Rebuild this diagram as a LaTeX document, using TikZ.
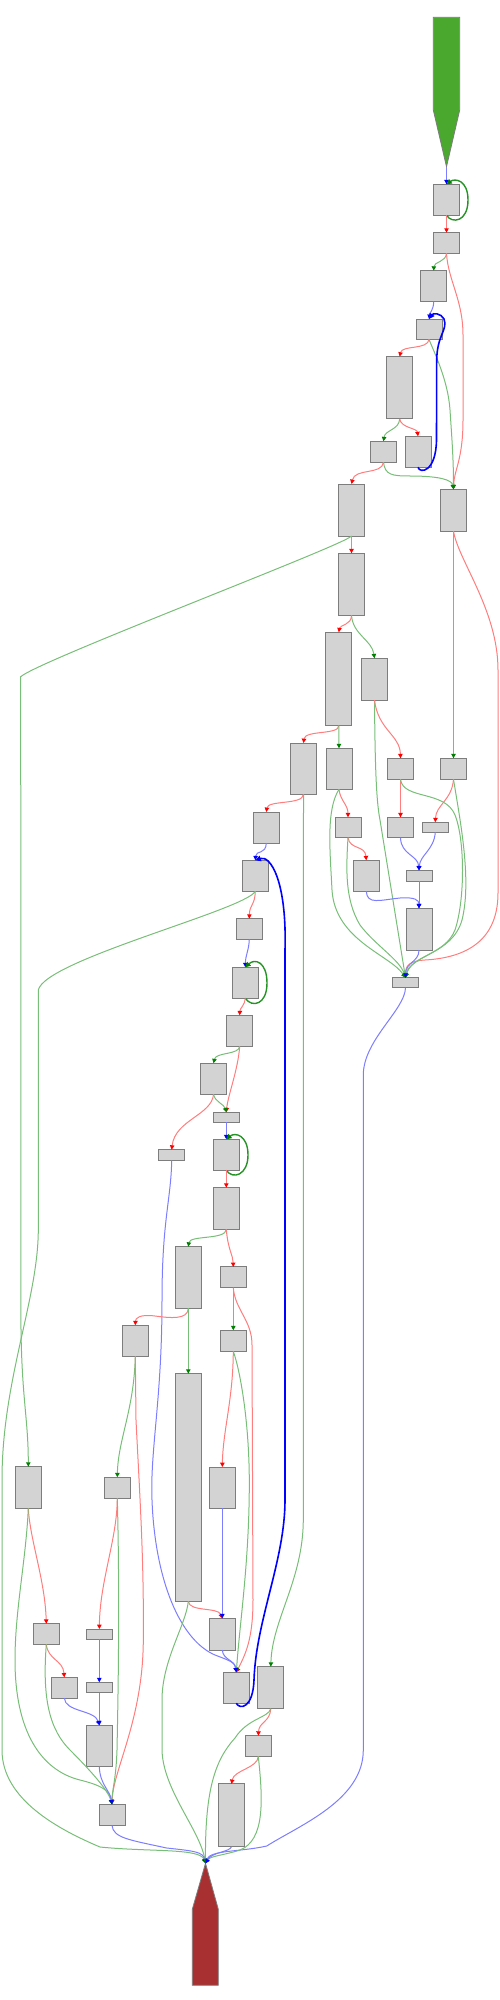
\documentclass[tikz,border=0pt]{standalone}
\usetikzlibrary{arrows.meta}
\definecolor{nodefill}{RGB}{211,211,211}
\definecolor{nodeline}{RGB}{125,125,125}
\definecolor{eg}{RGB}{120,190,120}
\definecolor{er}{RGB}{255,125,125}
\definecolor{eb}{RGB}{125,125,255}
\definecolor{tg}{RGB}{0,128,0}
\definecolor{tr}{RGB}{255,0,0}
\definecolor{tb}{RGB}{0,0,255}
\definecolor{startc}{RGB}{74,168,47}
\definecolor{endc}{RGB}{168,48,48}
\tikzset{
  blk/.style={draw=nodeline, fill=nodefill, line width=0.5pt, minimum width=13pt, inner sep=0pt, outer sep=0pt, rectangle},
  nh/.style={minimum height=#1*0.5pt},
  gE/.style={draw=eg, line width=0.5pt, -{Triangle[length=2.2pt,width=2.2pt,color=tg]}},
  rE/.style={draw=er, line width=0.5pt, -{Triangle[length=2.2pt,width=2.2pt,color=tr]}},
  bE/.style={draw=eb, line width=0.5pt, -{Triangle[length=2.2pt,width=2.2pt,color=tb]}},
  bB/.style={draw=tb, line width=0.8pt, -{Triangle[length=2.8pt,width=2.8pt,color=tb]}},
  gL/.style={draw=tg!85, line width=0.7pt, -{Triangle[length=2.6pt,width=2.6pt,color=tg]}},
}
\begin{document}
\begin{tikzpicture}[x=0.5pt,y=-0.5pt]
\useasboundingbox (0,0) rectangle (499,2000);
% start and end shapes
\filldraw[fill=startc, draw=nodeline, line width=0.4pt] (433.3,17.3) -- (459.7,17.3) -- (459.7,110) -- (446.5,166.7) -- (433.3,110) -- cycle;
\coordinate (start) at (446.5,166.7);
\filldraw[fill=endc, draw=nodeline, line width=0.4pt] (192.3,1985.3) -- (192.3,1909.3) -- (205.5,1863.3) -- (218.3,1909.3) -- (218.3,1985.3) -- cycle;
\coordinate (endtip) at (205.5,1863.3);
% blocks
\node[blk,nh=31] (N1) at (446.5,199.8) {};
\node[blk,nh=20.6] (N2) at (446.5,243) {};
\node[blk,nh=31] (N3) at (433.7,286.2) {};
\node[blk,nh=20.3] (N4) at (429,329.2) {};
\node[blk,nh=62.3] (N5) at (399.7,387.8) {};
\node[blk,nh=21] (N6) at (383.5,451.8) {};
\node[blk,nh=31] (N7) at (418,451.8) {};
\node[blk,nh=41.7] (N8) at (453.5,510.2) {};
\node[blk,nh=52] (N9) at (351.5,510) {};
\node[blk,nh=62] (N10) at (351.5,584.3) {};
\node[blk,nh=93.4] (N11) at (338.8,679) {};
\node[blk,nh=41.7] (N12) at (374.5,679.2) {};
\node[blk,nh=51.3] (N13) at (303.5,768.7) {};
\node[blk,nh=41] (N14) at (339,768.8) {};
\node[blk,nh=21] (NR) at (453.5,768.8) {};
\node[blk,nh=21] (N15) at (400.5,768.8) {};
\node[blk,nh=31] (N16) at (266.3,827.5) {};
\node[blk,nh=20.4] (N17) at (348,827.5) {};
\node[blk,nh=20.4] (N18) at (400.5,827.5) {};
\node[blk,nh=10] (N19) at (435.3,827.3) {};
\node[blk,nh=31] (N20) at (366.3,875.8) {};
\node[blk,nh=10.7] (N21) at (419,875.7) {};
\node[blk,nh=41.7] (N22) at (419,929.2) {};
\node[blk,nh=10] (M) at (405.5,982.7) {};
\node[blk,nh=31] (N23) at (255.3,875.8) {};
\node[blk,nh=20.6] (N24) at (249.3,929) {};
\node[blk,nh=31] (N25) at (245.3,982.8) {};
\node[blk,nh=31] (N26) at (239.7,1030.8) {};
\node[blk,nh=31] (N27) at (213.5,1078.8) {};
\node[blk,nh=10] (N28) at (226.3,1117.3) {};
\node[blk,nh=10.6] (N29) at (171.7,1155) {};
\node[blk,nh=31] (N30) at (226.3,1154.8) {};
\node[blk,nh=41.6] (N31) at (226.3,1208.5) {};
\node[blk,nh=61.6] (N32) at (188.3,1277.5) {};
\node[blk,nh=20.7] (N33) at (233.3,1277.3) {};
\node[blk,nh=31] (N35) at (135.3,1340.8) {};
\node[blk,nh=227.6] (N36) at (188.3,1487.5) {};
\node[blk,nh=21] (N37) at (233.3,1340.8) {};
\node[blk,nh=41.3] (N38) at (222.3,1487.7) {};
\node[blk,nh=31.7] (N49) at (222.3,1634.2) {};
\node[blk,nh=41.6] (NL1) at (28.3,1487.5) {};
\node[blk,nh=21] (N39) at (117.3,1487.8) {};
\node[blk,nh=20.6] (N41) at (46.3,1634) {};
\node[blk,nh=10.3] (N42) at (99.3,1634.2) {};
\node[blk,nh=20.7] (N43) at (64.3,1687.7) {};
\node[blk,nh=10.4] (N44) at (99.3,1687.5) {};
\node[blk,nh=41.4] (N45) at (99.3,1746) {};
\node[blk,nh=21] (N40) at (112,1814.8) {};
\node[blk,nh=31] (NB) at (236.3,1687.8) {};
\node[blk,nh=42] (N46) at (270.8,1687.7) {};
\node[blk,nh=20.6] (N47) at (258.3,1746) {};
\node[blk,nh=62.7] (N48) at (231.5,1815.3) {};
% edges
\draw[bE] (start) -- (N1.north);
\draw[gL] (N1.south) .. controls (452,224) and (468,222) .. (468,200) .. controls (468,180) and (455,178) .. (N1.north);
\draw[rE] (N1.south) -- (N2.north);
\draw[gE] (N2.south) .. controls (446,262) and (434,262) .. (N3.north);
\draw[rE] (N2.south) .. controls (448,280) and (463,300) .. (463,335) -- (463,420) .. controls (463,460) and (454,470) .. (N8.north);
\draw[bE] (N3.south) .. controls (433.5,310) and (430,312) .. (N4.north);
\draw[rE] (N4.south) .. controls (428,350) and (402,345) .. (N5.north);
\draw[gE] (N4.south) .. controls (434,352) and (448,380) .. (450,410) .. controls (452,440) and (453.5,460) .. (N8.north);
\draw[gE] (N5.south) .. controls (399,430) and (385,430) .. (N6.north);
\draw[rE] (N5.south) .. controls (401,428) and (417,428) .. (N7.north);
\draw[bB] (N7.south) .. controls (420,474) and (436,472) .. (436.5,440) -- (436.7,360) .. controls (437,335) and (448,330) .. (444,319) .. controls (441,313) and (433,313) .. (N4.north);
\draw[gE] (N6.south) .. controls (385,475) and (392,476) .. (410,476) .. controls (440,476) and (452,480) .. (N8.north);
\draw[rE] (N6.south) .. controls (382,475) and (355,468) .. (N9.north);
\draw[rE] (N9.south) -- (N10.north);
\draw[gE] (N9.south) .. controls (345,545) and (40,660) .. (20.7,676.7) -- (21,1330) .. controls (22,1400) and (28.3,1420) .. (NL1.north);
\draw[gE] (N8.south) -- (NR.north);
\draw[rE] (N8.south) .. controls (458,560) and (498,610) .. (498,670) -- (498,893) .. controls (498,945) and (460,958) .. (425,960) .. controls (410,961) and (405.5,965) .. (M.north);
\draw[rE] (N10.south) .. controls (351.5,625) and (340,625) .. (N11.north);
\draw[gE] (N10.south) .. controls (353,635) and (372,640) .. (N12.north);
\draw[rE] (N11.south) .. controls (339,735) and (305,730) .. (N13.north);
\draw[gE] (N11.south) -- (N14.north);
\draw[gE] (N12.south) .. controls (375,760) and (376,800) .. (380,820) -- (M.north);
\draw[rE] (N12.south) .. controls (378,730) and (400,735) .. (N15.north);
\draw[rE] (N13.south) .. controls (303,805) and (268,800) .. (N16.north);
\draw[gE] (N13.south) -- (303.3,1520) .. controls (303,1580) and (272,1620) .. (N46.north);
\draw[rE] (N14.south) .. controls (340,800) and (348,805) .. (N17.north);
\draw[gE] (N14.south) .. controls (326,810) and (330,850) .. (332,890) .. controls (335,940) and (390,955) .. (M.north);
\draw[rE] (NR.south) .. controls (452,800) and (436,805) .. (N19.north);
\draw[gE] (NR.south) .. controls (460,820) and (472,880) .. (462,920) .. controls (452,955) and (410,955) .. (M.north);
\draw[rE] (N15.south) -- (N18.north);
\draw[gE] (N15.south) .. controls (403,800) and (445,790) .. (455,815) .. controls (465,840) and (465,900) .. (455,930) .. controls (445,955) and (412,955) .. (M.north);
\draw[bE] (N16.south) .. controls (266,855) and (256,850) .. (N23.north);
\draw[rE] (N17.south) .. controls (350,850) and (365,845) .. (N20.north);
\draw[gE] (N17.south) .. controls (346,870) and (345,900) .. (360,925) .. controls (375,945) and (400,960) .. (M.north);
\draw[bE] (N18.south) .. controls (401,855) and (418,855) .. (N21.north);
\draw[bE] (N19.south) .. controls (434,850) and (420,855) .. (N21.north);
\draw[bE] (N21.south) -- (N22.north);
\draw[bE] (N20.south) .. controls (367,905) and (380,900) .. (400,898) .. controls (415,897) and (419,900) .. (N22.north);
\draw[bE] (N22.south) .. controls (419,962) and (406,962) .. (M.north);
\draw[bE] (M.south) .. controls (405,1010) and (363.3,1040) .. (363.3,1075) -- (363.3,1750) .. controls (363.3,1800) and (300,1825) .. (266.7,1846) .. controls (240,1852) and (210,1850) .. (endtip);
\draw[rE] (N23.south) .. controls (255,905) and (249.5,905) .. (N24.north);
\draw[gE] (N23.south) .. controls (245,910) and (45,960) .. (38.3,990) -- (38.3,1230) .. controls (38,1300) and (2,1380) .. (2,1480) -- (2,1750) .. controls (2,1800) and (60,1830) .. (100,1847) .. controls (150,1852) and (200,1848) .. (endtip);
\draw[bE] (N24.south) .. controls (249,950) and (245.5,955) .. (N25.north);
\draw[gL] (N25.south) .. controls (252,1008) and (267,1005) .. (267,983) .. controls (267,962) and (255,958) .. (N25.north);
\draw[rE] (N25.south) .. controls (245,1005) and (240,1008) .. (N26.north);
\draw[gE] (N26.south) .. controls (239,1055) and (216,1052) .. (N27.north);
\draw[rE] (N26.south) .. controls (238,1070) and (228,1095) .. (N28.north);
\draw[gE] (N27.south) .. controls (215,1102) and (224,1104) .. (N28.north);
\draw[rE] (N27.south) .. controls (212,1115) and (175,1120) .. (N29.north);
\draw[bE] (N28.south) -- (N30.north);
\draw[gL] (N30.south) .. controls (233,1180) and (248,1175) .. (248,1155) .. controls (248,1135) and (235,1132) .. (N30.north);
\draw[rE] (N30.south) -- (N31.north);
\draw[bE] (N29.south) .. controls (171,1200) and (162,1220) .. (162,1300) .. controls (162,1400) and (150,1450) .. (152,1500) .. controls (155,1580) and (180,1640) .. (215,1655) .. controls (228,1660) and (235,1662) .. (NB.north);
\draw[gE] (N31.south) .. controls (226,1240) and (190,1235) .. (N32.north);
\draw[rE] (N31.south) .. controls (228,1250) and (233,1255) .. (N33.north);
\draw[rE] (N32.south) .. controls (188,1320) and (170,1318) .. (155,1316) .. controls (140,1314) and (135.5,1318) .. (N35.north);
\draw[gE] (N32.south) -- (N36.north);
\draw[gE] (N33.south) -- (N37.north);
\draw[rE] (N33.south) .. controls (235,1310) and (252,1320) .. (252,1345) -- (253,1600) .. controls (253,1640) and (245,1655) .. (NB.north);
\draw[rE] (N37.south) .. controls (233,1400) and (223,1430) .. (N38.north);
\draw[gE] (N37.south) .. controls (240,1370) and (249,1420) .. (249.3,1480) .. controls (249.5,1560) and (240,1620) .. (NB.north);
\draw[gE] (N35.south) .. controls (134,1410) and (118,1440) .. (N39.north);
\draw[rE] (N35.south) -- (136,1420) .. controls (140,1500) and (144,1560) .. (143.3,1640) .. controls (143,1720) and (113,1770) .. (N40.north);
\draw[rE] (N36.south) .. controls (189,1612) and (218,1607) .. (N49.north);
\draw[gE] (N36.south) .. controls (186,1625) and (162,1660) .. (162,1700) -- (162,1750) .. controls (163,1790) and (200,1830) .. (endtip);
\draw[bE] (N38.south) -- (N49.north);
\draw[bE] (N49.south) .. controls (223,1660) and (235,1660) .. (NB.north);
\draw[bB] (NB.south) .. controls (240,1710) and (253,1708) .. (254,1680) .. controls (256,1620) and (285,1560) .. (285,1500) -- (285,950) .. controls (287,880) and (270,855) .. (N23.north);
\draw[rE] (NL1.south) .. controls (30,1540) and (45,1580) .. (N41.north);
\draw[gE] (NL1.south) .. controls (26,1560) and (15,1610) .. (15,1660) .. controls (15,1730) and (40,1770) .. (80,1780) .. controls (100,1785) and (110,1790) .. (N40.north);
\draw[rE] (N39.south) .. controls (117,1540) and (100,1580) .. (N42.north);
\draw[gE] (N39.south) .. controls (120,1600) and (118,1700) .. (117,1750) .. controls (116,1780) and (112,1790) .. (N40.north);
\draw[rE] (N41.south) .. controls (48,1660) and (63,1660) .. (N43.north);
\draw[gE] (N41.south) .. controls (42,1700) and (50,1730) .. (70,1750) .. controls (90,1770) and (108,1790) .. (N40.north);
\draw[bE] (N42.south) -- (N44.north);
\draw[bE] (N43.south) .. controls (65,1712) and (95,1710) .. (N45.north);
\draw[bE] (N44.south) -- (N45.north);
\draw[bE] (N45.south) .. controls (100,1785) and (110,1790) .. (N40.north);
\draw[bE] (N40.south) .. controls (113,1838) and (130,1840) .. (166.7,1848) .. controls (195,1851) and (203,1852) .. (endtip);
\draw[rE] (N46.south) .. controls (270,1722) and (259,1722) .. (N47.north);
\draw[gE] (N46.south) .. controls (268,1718) and (248,1718) .. (235,1738) .. controls (215,1760) and (205,1790) .. (endtip);
\draw[rE] (N47.south) .. controls (258,1768) and (234,1770) .. (N48.north);
\draw[gE] (N47.south) .. controls (263,1800) and (265,1840) .. (240,1850) .. controls (225,1855) and (210,1856) .. (endtip);
\draw[bE] (N48.south) .. controls (230,1852) and (212,1852) .. (endtip);
\end{tikzpicture}
\end{document}
